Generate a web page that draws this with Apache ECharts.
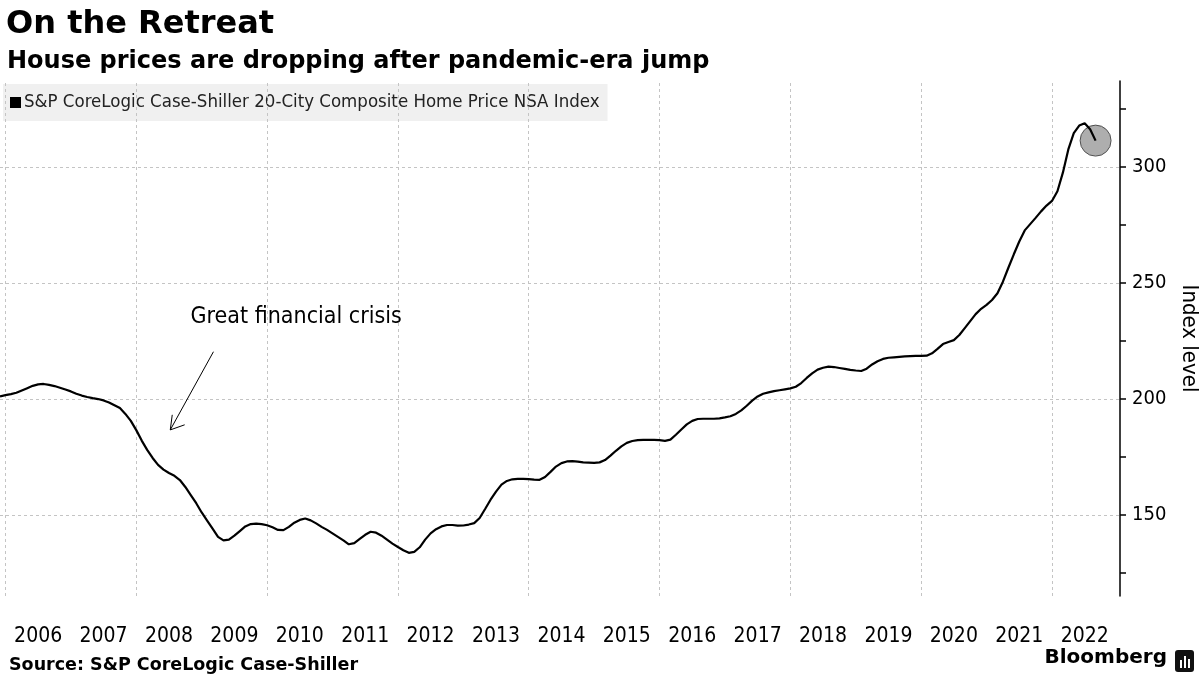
<!DOCTYPE html>
<html>
<head>
<meta charset="utf-8">
<script src="https://cdn.jsdelivr.net/npm/echarts@6/dist/echarts.min.js"></script>
<style>
html,body{margin:0;padding:0;background:#fff;}
#c{width:1200px;height:675px;}
</style>
</head>
<body>
<div id="c"></div>
<script>
// ---- Data (monthly index values) ----
const seriesName = 'S&P CoreLogic Case-Shiller 20-City Composite Home Price NSA Index';
const v2005 = [201.0]; // Dec 2005
const v2006 = [201.6, 202.0, 202.6, 203.6, 204.6, 205.6, 206.2, 206.4, 206.0, 205.5, 204.8, 204.0];
const v2007 = [203.2, 202.2, 201.4, 200.8, 200.3, 199.9, 199.3, 198.4, 197.2, 196.0, 193.5, 190.5];
const v2008 = [186.5, 182.0, 178.0, 174.5, 171.5, 169.5, 168.0, 166.8, 165.0, 162.0, 158.5, 155.0];
const v2009 = [151.0, 147.5, 144.0, 140.5, 139.0, 139.3, 141.0, 143.0, 145.0, 146.0, 146.2, 146.0];
const v2010 = [145.5, 144.6, 143.5, 143.4, 144.8, 146.6, 147.8, 148.4, 147.6, 146.3, 144.8, 143.5];
const v2011 = [142.0, 140.5, 139.0, 137.3, 137.8, 139.6, 141.4, 142.7, 142.3, 141.0, 139.3, 137.6];
const v2012 = [136.1, 134.7, 133.6, 134.0, 136.0, 139.3, 142.0, 143.8, 145.0, 145.6, 145.6, 145.3];
const v2013 = [145.4, 145.8, 146.4, 148.6, 152.5, 156.5, 160.0, 163.0, 164.6, 165.3, 165.5, 165.5];
const v2014 = [165.4, 165.2, 165.1, 166.3, 168.5, 170.8, 172.3, 173.0, 173.1, 172.9, 172.6, 172.5];
const v2015 = [172.4, 172.6, 173.6, 175.5, 177.6, 179.5, 181.0, 181.8, 182.2, 182.3, 182.3, 182.3];
const v2016 = [182.2, 181.9, 182.4, 184.5, 186.8, 189.0, 190.5, 191.3, 191.4, 191.4, 191.4, 191.6];
const v2017 = [192.0, 192.5, 193.5, 195.0, 197.0, 199.2, 201.0, 202.2, 202.8, 203.3, 203.7, 204.1];
const v2018 = [204.5, 205.2, 206.8, 209.0, 211.0, 212.6, 213.4, 213.9, 213.7, 213.3, 212.9, 212.5];
const v2019 = [212.2, 212.0, 213.0, 214.8, 216.2, 217.2, 217.7, 217.9, 218.1, 218.3, 218.4, 218.5];
const v2020 = [218.5, 218.6, 219.6, 221.5, 223.6, 224.5, 225.3, 227.5, 230.5, 233.5, 236.5, 238.8];
const v2021 = [240.5, 242.6, 245.5, 250.5, 256.5, 262.3, 267.8, 272.6, 275.3, 278.0, 280.8, 283.3];
const v2022 = [285.3, 289.5, 297.5, 307.5, 314.5, 317.8, 318.8, 316.2, 311.3];

const yearLabels = ['2006','2007','2008','2009','2010','2011','2012','2013','2014','2015','2016','2017','2018','2019','2020','2021','2022'];
const yTickLabels = [150, 200, 250, 300];
const yMinorTicks = [125, 150, 175, 200, 225, 250, 275, 300, 325];
const xGridYears = [2006, 2008, 2010, 2012, 2014, 2016, 2018, 2020, 2022];

const annotationText = 'Great financial crisis';
const annotationTextAt = [2008.83, 235.3];
const arrowFrom = [2009.18, 220.3];
const arrowTo = [2008.52, 186.6];
const arrowWing1 = [2008.55, 193.1];
const arrowWing2 = [2008.74, 188.8];

// ---- Build [x, y] points: x = decimal year at start of month ----
const byYear = [[2005, v2005, 11], [2006, v2006, 0], [2007, v2007, 0], [2008, v2008, 0], [2009, v2009, 0],
  [2010, v2010, 0], [2011, v2011, 0], [2012, v2012, 0], [2013, v2013, 0], [2014, v2014, 0], [2015, v2015, 0],
  [2016, v2016, 0], [2017, v2017, 0], [2018, v2018, 0], [2019, v2019, 0], [2020, v2020, 0], [2021, v2021, 0], [2022, v2022, 0]];
const points = [];
byYear.forEach(([yr, arr, m0]) => arr.forEach((v, k) => points.push([yr + (m0 + k) / 12, v])));
const lastPoint = points[points.length - 1];

const FONT = "'DejaVu Sans Condensed', 'DejaVu Sans', sans-serif";
const FONT_WIDE = "'DejaVu Sans', sans-serif";
const gridLine = {type: [3, 3], color: '#c4c4c4', width: 1};

const chart = echarts.init(document.getElementById('c'), null, {renderer: 'canvas'});
chart.setOption({
  animation: false,
  backgroundColor: '#ffffff',
  textStyle: {fontFamily: FONT},
  title: [
    {text: 'On the Retreat', left: 1, top: 4, textStyle: {fontFamily: FONT_WIDE, fontWeight: 'bold', fontSize: 32, color: '#000'}},
    {text: 'House prices are dropping after pandemic-era jump', left: 2, top: 45, textStyle: {fontFamily: FONT_WIDE, fontWeight: 'bold', fontSize: 24, color: '#000'}},
    {text: 'Source: S&P CoreLogic Case-Shiller', left: 4, top: 651, textStyle: {fontFamily: FONT_WIDE, fontWeight: 'bold', fontSize: 17.5, color: '#000'}}
  ],
  legend: {
    data: [seriesName], left: 3, top: 84, icon: 'rect', itemWidth: 11, itemHeight: 11, itemGap: 4,
    backgroundColor: 'rgba(215,215,215,0.38)', padding: [9, 8, 9, 7], selectedMode: false,
    textStyle: {fontFamily: FONT, fontSize: 18.5, color: '#222', padding: [0, 0, 0, -2]}
  },
  grid: {left: 0, right: 80, top: 81, bottom: 79, containLabel: false, outerBoundsMode: 'none'},
  xAxis: {
    type: 'value', min: 2005 + 11 / 12, max: 2023.04,
    axisLine: {show: false}, axisTick: {show: false}, splitLine: {show: false},
    axisLabel: {
      customValues: yearLabels.map(y => Number(y) + 0.5),
      formatter: v => String(Math.floor(v)),
      margin: 30, fontFamily: FONT, fontSize: 21, color: '#000'
    }
  },
  yAxis: {
    type: 'value', position: 'right', min: 115, max: 337,
    name: 'Index level', nameLocation: 'middle', nameRotate: -90, nameGap: 53,
    nameTextStyle: {fontFamily: FONT, fontSize: 22, color: '#000'},
    axisLine: {show: true, lineStyle: {color: '#000', width: 1.5}},
    axisTick: {show: true, customValues: yMinorTicks, length: 6, inside: false, lineStyle: {color: '#000', width: 1.5}},
    axisLabel: {customValues: yTickLabels, margin: 12, fontFamily: FONT, fontSize: 20, color: '#000'},
    splitLine: {show: false}
  },
  graphic: [
    {type: 'text', right: 33, top: 648, style: {text: 'Bloomberg', fontFamily: FONT_WIDE, fontWeight: 'bold', fontSize: 20, fill: '#000'}},
    {type: 'group', right: 6, top: 650, children: [
      {type: 'rect', shape: {x: 0, y: 0, width: 19, height: 22, r: 3}, style: {fill: '#111'}},
      {type: 'rect', shape: {x: 5, y: 10, width: 2, height: 8}, style: {fill: '#fff'}},
      {type: 'rect', shape: {x: 9, y: 6, width: 2, height: 12}, style: {fill: '#fff'}},
      {type: 'rect', shape: {x: 13, y: 9, width: 2, height: 9}, style: {fill: '#fff'}}
    ]}
  ],
  series: [
    {
      name: seriesName, type: 'line', data: points, showSymbol: false, symbol: 'none',
      color: '#000', lineStyle: {color: '#000', width: 2.2}, z: 5, silent: true,
      markLine: {
        silent: true, symbol: 'none', animation: false,
        label: {show: false},
        lineStyle: gridLine,
        data: [
          ...xGridYears.map(y => ({xAxis: y})),
          ...yTickLabels.map(v => ({yAxis: v})),
          [{coord: arrowFrom, lineStyle: {type: 'solid', color: '#000', width: 1}}, {coord: arrowTo}],
          [{coord: arrowTo, lineStyle: {type: 'solid', color: '#000', width: 1}}, {coord: arrowWing1}],
          [{coord: arrowTo, lineStyle: {type: 'solid', color: '#000', width: 1}}, {coord: arrowWing2}]
        ]
      },
      markPoint: {
        silent: true, animation: false,
        data: [{coord: annotationTextAt, symbol: 'circle', symbolSize: 0,
          label: {show: true, position: 'right', distance: 0, formatter: annotationText, fontFamily: FONT, fontSize: 23, color: '#000'}}]
      }
    },
    {
      name: 'latest', type: 'scatter', data: [lastPoint], symbolSize: 31, z: 3, silent: true,
      itemStyle: {color: '#9a9a9a', borderColor: '#333', borderWidth: 1}
    }
  ]
});
</script>
</body>
</html>
